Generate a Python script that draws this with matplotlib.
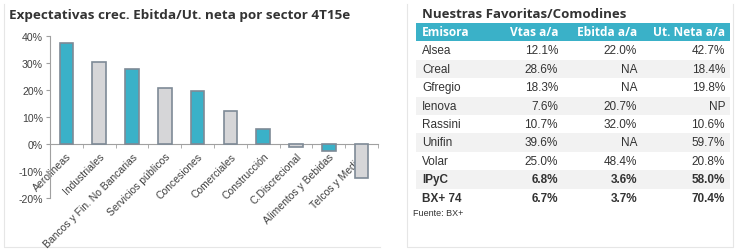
import numpy as np
import matplotlib.pyplot as plt
from matplotlib.patches import Rectangle

# ---- data ----
sectors = ["Aerolineas", "Industriales", "Bancos y Fin. No Bancarias", "Servicios públicos",
           "Concesiones", "Comerciales", "Construcción", "C.Discrecional",
           "Alimentos y Bebidas", "Telcos y Medios"]
growth = [37.5, 30.3, 27.8, 20.7, 19.6, 12.3, 5.5, -1.2, -2.5, -12.5]
highlight = [True, False, True, False, True, False, True, False, True, False]

emisoras = ["Alsea", "Creal", "Gfregio", "Ienova", "Rassini", "Unifin", "Volar", "IPyC", "BX+ 74"]
vtas = ["12.1%", "28.6%", "18.3%", "7.6%", "10.7%", "39.6%", "25.0%", "6.8%", "6.7%"]
ebitda = ["22.0%", "NA", "NA", "20.7%", "32.0%", "NA", "48.4%", "3.6%", "3.7%"]
utneta = ["42.7%", "18.4%", "19.8%", "NP", "10.6%", "59.7%", "20.8%", "58.0%", "70.4%"]
headers = ["Emisora", "Vtas a/a", "Ebitda a/a", "Ut. Neta a/a"]

teal = "#3AB1C8"
grey = "#D6D6D8"
edge = "#7E8A96"
W, H = 739, 251

fig = plt.figure(figsize=(W / 100, H / 100), dpi=100)

# background / frame axes in pixel coords
bg = fig.add_axes([0, 0, 1, 1])
bg.set_xlim(0, W)
bg.set_ylim(H, 0)
bg.axis("off")

# panel frames
bg.plot([4, 4, 380], [5, 248, 248], color="#E6E6E6", lw=0.8)
bg.plot([407, 407, 733, 733], [5, 248, 248, 5], color="#E6E6E6", lw=0.8)

bg.text(9, 15, "Expectativas crec. Ebitda/Ut. neta por sector 4T15e", fontsize=9.7,
        fontweight="bold", family="Open Sans", color="#333333", va="center", ha="left")

# ---- bar chart ----
ax = fig.add_axes([50 / W, 1 - 199 / H, 328 / W, 162 / H])
x = np.arange(len(sectors))
colors = [teal if h else grey for h in highlight]
ax.bar(x, growth, width=0.42, color=colors, edgecolor=edge, linewidth=1.2, zorder=3)
ax.set_xlim(-0.5, len(sectors) - 0.5)
ax.set_ylim(-20, 40)
ax.set_yticks(np.arange(-20, 41, 10))
ax.set_yticklabels([f"{v}%" for v in range(-20, 41, 10)], fontsize=7.6,
                   family="Liberation Sans", color="#404040")
for s in ["top", "right"]:
    ax.spines[s].set_visible(False)
ax.spines["left"].set_color("#A0A0A0")
ax.spines["bottom"].set_color("#A0A0A0")
ax.spines["bottom"].set_position(("data", 0))
ax.tick_params(axis="y", length=3, color="#A0A0A0", pad=2)
ax.set_xticks(x)
ax.set_xticklabels(sectors, rotation=45, ha="right", rotation_mode="anchor",
                   fontsize=7.5, family="Liberation Sans", color="#404040")
ax.set_xticks(np.arange(-0.5, len(sectors)), minor=True)
ax.tick_params(axis="x", which="major", length=0, pad=5)
ax.tick_params(axis="x", which="minor", length=3, color="#A0A0A0")

# ---- table ----
tx0, tx1 = 416, 730
bg.text(422, 15, "Nuestras Favoritas/Comodines", fontsize=9.5, fontweight="bold",
        family="Open Sans", color="#333333", va="center", ha="left")
bg.add_patch(Rectangle((tx0, 23.5), tx1 - tx0, 18, color=teal, lw=0))
col_x = [422, 558, 637, 725]
col_ha = ["left", "right", "right", "right"]
for cx, ha, h in zip(col_x, col_ha, headers):
    bg.text(cx, 32.5, h, fontsize=8.6, fontweight="bold", family="Open Sans",
            color="white", va="center", ha=ha)

row_h = 18.4
y0 = 51.5
for i, row in enumerate(zip(emisoras, vtas, ebitda, utneta)):
    yc = y0 + i * row_h
    if i % 2 == 1:
        bg.add_patch(Rectangle((tx0, yc - row_h / 2), tx1 - tx0, row_h,
                               color="#F2F2F2", lw=0))
    bold = i >= len(emisoras) - 2
    for cx, ha, val in zip(col_x, col_ha, row):
        bg.text(cx, yc, val, fontsize=8.5, family="Liberation Sans",
                fontweight="bold" if bold else "normal",
                color="#333333", va="center", ha=ha)

bg.text(413, 214, "Fuente: BX+", fontsize=6.5, family="Liberation Sans",
        color="#333333", va="center", ha="left")

fig.savefig("out.png", dpi=100)
